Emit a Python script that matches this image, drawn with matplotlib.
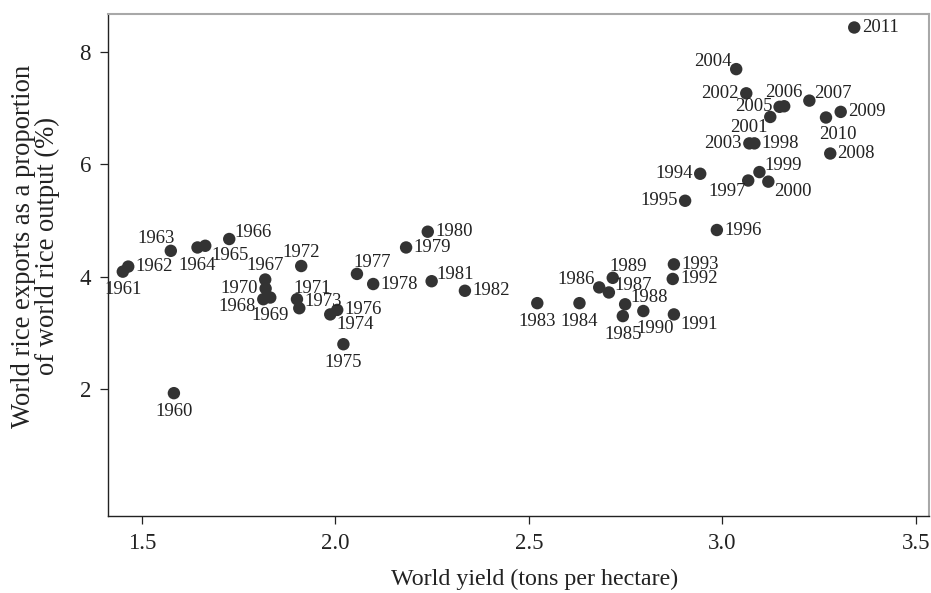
import matplotlib
matplotlib.use("Agg")
import matplotlib.pyplot as plt

# World yield (t/ha) and rice exports share of output (%), 1960-2011
years = list(range(1960, 2012))
yield_t = [1.583, 1.451, 1.465, 1.575, 1.644, 1.664, 1.726, 1.819, 1.814, 1.832,
           1.820, 1.901, 1.912, 1.907, 1.987, 2.021, 2.005, 2.056, 2.098, 2.183,
           2.239, 2.249, 2.335, 2.522, 2.631, 2.743, 2.682, 2.707, 2.749, 2.717,
           2.796, 2.875, 2.872, 2.875, 2.943, 2.904, 2.986, 3.067, 3.083, 3.096,
           3.119, 3.124, 3.062, 3.070, 3.036, 3.148, 3.160, 3.225, 3.279, 3.306,
           3.268, 3.341]
export_share = [1.93, 4.09, 4.18, 4.46, 4.52, 4.55, 4.67, 3.95, 3.60, 3.63,
                3.79, 3.60, 4.19, 3.44, 3.33, 2.80, 3.41, 4.05, 3.87, 4.52,
                4.80, 3.92, 3.75, 3.53, 3.53, 3.30, 3.81, 3.72, 3.51, 3.98,
                3.39, 3.33, 3.96, 4.22, 5.83, 5.35, 4.83, 5.71, 6.37, 5.86,
                5.69, 6.84, 7.26, 6.37, 7.69, 7.02, 7.03, 7.13, 6.19, 6.93,
                6.83, 8.43]

# label position per point, as a clock hour (Stata style)
label_clock = [6, 6, 3, 11, 6, 4, 2, 12, 8, 6,
               9, 1, 12, 2, 4, 6, 3, 1, 3, 3,
               3, 2, 3, 6, 6, 6, 10, 2, 2, 1,
               5, 4, 3, 3, 9, 9, 3, 7, 3, 2,
               4, 7, 9, 9, 10, 9, 12, 2, 3, 3,
               5, 3]

# label centre offset from the marker, in pixels (x right, y up)
clock_offset = {3: (26, 0), 9: (-26, 0), 12: (0, 14), 6: (0, -18),
                1: (15, 11), 2: (24, 7), 4: (25, -10), 5: (12, -17),
                7: (-21, -11), 8: (-26, -7), 10: (-23, 8), 11: (-15, 12)}

plt.rcParams['font.family'] = ['Liberation Serif', 'DejaVu Serif']

fig = plt.figure(figsize=(9.31, 5.93), dpi=100)
ax = fig.add_axes([0.1157, 0.1298, 0.8825, 0.8466])

ax.scatter(yield_t, export_share, s=80, color='#333333', edgecolors='none', zorder=3)

for yr, x, y, c in zip(years, yield_t, export_share, label_clock):
    dx, dy = clock_offset[c]
    ax.annotate(str(yr), (x, y), xytext=(dx, dy), textcoords='offset pixels',
                ha='center', va='center', fontsize=13.5, color='#222222')

ax.set_xlim(1.412, 3.535)
ax.set_ylim(-0.254, 8.67)
ax.set_xticks([1.5, 2.0, 2.5, 3.0, 3.5])
ax.set_xticklabels(['1.5', '2.0', '2.5', '3.0', '3.5'])
ax.set_yticks([2, 4, 6, 8])

ax.tick_params(axis='both', direction='out', length=6, width=0.9, labelsize=16.5,
               colors='#222222', pad=6)
for side in ['left', 'bottom']:
    ax.spines[side].set_color('#222222')
    ax.spines[side].set_linewidth(1.0)
for side in ['top', 'right']:
    ax.spines[side].set_color('#a8a8a8')
    ax.spines[side].set_linewidth(1.5)

ax.set_xlabel('World yield (tons per hectare)', fontsize=17.3, color='#222222')
ax.xaxis.set_label_coords(0.519, -0.105)
ax.set_ylabel('World rice exports as a proportion\nof world rice output (%)',
              fontsize=19.2, color='#222222', linespacing=0.95)
ax.yaxis.set_label_coords(-0.058, 0.538)

fig.savefig('out.png', dpi=100)
